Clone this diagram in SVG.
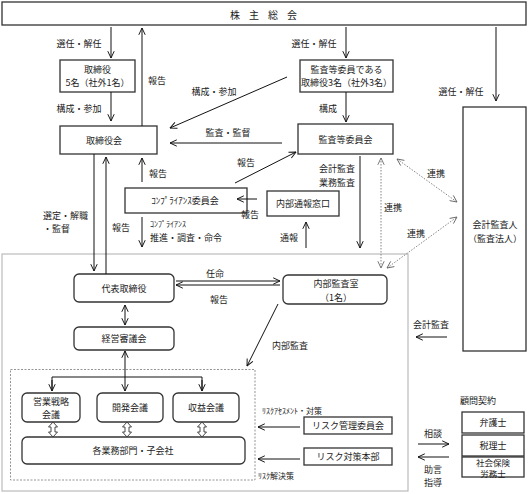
<svg xmlns="http://www.w3.org/2000/svg" width="529" height="494" viewBox="0 0 529 494">
<defs>
<style>
text{font-family:"Noto Sans CJK JP","Noto Sans",sans-serif;font-size:9px;fill:#1a1a1a;text-anchor:middle;dominant-baseline:central}
.s{font-size:8px}
.t{font-size:8.5px}
.l{text-anchor:start}
.box{fill:#fff;stroke:#333;stroke-width:1.3}
.c{fill:none;stroke:#111;stroke-width:1}
.d{fill:none;stroke:#777;stroke-width:0.9;stroke-dasharray:1.5,1.5}
.ha{fill:#fff;stroke:#333;stroke-width:0.9}
</style>
<marker id="ah" viewBox="0 0 10 10" refX="9.5" refY="5" markerWidth="8" markerHeight="8" markerUnits="userSpaceOnUse" orient="auto-start-reverse"><path d="M1,1 L9.5,5 L1,9" fill="none" stroke="#111" stroke-width="1.2"/></marker>
<marker id="ag" viewBox="0 0 10 10" refX="9.5" refY="5" markerWidth="8" markerHeight="8" markerUnits="userSpaceOnUse" orient="auto-start-reverse"><path d="M1,1 L9.5,5 L1,9" fill="none" stroke="#666" stroke-width="1.1"/></marker>
<path id="dbl" d="M0,0 L4.5,5 L2,5 L2,10 L4.5,10 L0,15 L-4.5,10 L-2,10 L-2,5 L-4.5,5 Z"/>
</defs>

<!-- frames -->
<rect x="2" y="254" width="406" height="237" fill="none" stroke="#bbb" stroke-width="1.2"/>
<rect x="10.5" y="369.5" width="244.5" height="110.5" fill="none" stroke="#888" stroke-width="0.9" stroke-dasharray="2,1.5"/>

<g id="n-shareholders"><rect class="box" x="2" y="2" width="524" height="23"/><text x="268" y="14" style="font-size:10px;letter-spacing:9px">株主総会</text></g>
<g id="n-directors"><rect class="box" x="60" y="60" width="75" height="32"/><text x="97.5" y="69.5">取締役</text><text x="97.5" y="82.5">5名（社外1名）</text></g>
<g id="n-acdirectors"><rect class="box" x="300" y="60" width="93" height="32"/><text x="346.5" y="69.5">監査等委員である</text><text x="346.5" y="82.5">取締役3名（社外3名）</text></g>
<g id="n-board"><rect class="box" x="60" y="126" width="97" height="28"/><text x="104" y="140">取締役会</text></g>
<g id="n-accommittee"><rect class="box" x="298" y="124" width="95" height="30"/><text x="345.5" y="139">監査等委員会</text></g>
<g id="n-auditor"><rect class="box" x="463" y="107" width="63" height="244"/><text x="495" y="224.5">会計監査人</text><text x="495" y="238.5">（監査法人）</text></g>
<g id="n-compliance"><rect class="box" x="125" y="188" width="122" height="25"/><text x="185" y="200.5">ｺﾝﾌﾟﾗｲｱﾝｽ委員会</text></g>
<g id="n-whistle"><rect class="box" x="267" y="191" width="72" height="25"/><text x="303" y="203.5">内部通報窓口</text></g>
<g id="n-ceo"><rect class="box" x="74" y="274" width="100" height="28" rx="5"/><text x="124" y="288">代表取締役</text></g>
<g id="n-internal"><rect class="box" x="283" y="275" width="104" height="29" rx="5"/><text x="336" y="283.5">内部監査室</text><text x="336" y="297">（1名）</text></g>
<g id="n-mgmt"><rect class="box" x="74" y="327" width="100" height="23" rx="5"/><text x="124" y="338.5">経営審議会</text></g>
<g id="n-sales"><rect class="box" x="22" y="393" width="58" height="29" rx="5"/><text x="51" y="401.5">営業戦略</text><text x="51" y="414">会議</text></g>
<g id="n-dev"><rect class="box" x="97" y="393" width="66" height="29" rx="5"/><text x="130" y="407.5">開発会議</text></g>
<g id="n-profit"><rect class="box" x="173" y="393" width="66" height="29" rx="5"/><text x="206" y="407.5">収益会議</text></g>
<g id="n-depts"><rect class="box" x="22" y="437" width="223" height="27" rx="5"/><text x="133" y="450.5">各業務部門・子会社</text></g>
<g id="n-riskcomm"><rect class="box" x="304" y="417" width="88" height="17"/><text x="348" y="425.5">リスク管理委員会</text></g>
<g id="n-riskhq"><rect class="box" x="304" y="448" width="88" height="17"/><text x="348" y="456.5">リスク対策本部</text></g>
<g id="n-advisors">
<text x="478" y="400">顧問契約</text>
<rect class="box" x="462" y="412" width="62" height="21"/><text x="493" y="422.5">弁護士</text>
<rect class="box" x="462" y="435" width="62" height="21"/><text x="493" y="445.5">税理士</text>
<rect class="box" x="462" y="457" width="62" height="20"/><text class="t" x="493" y="461.5">社会保険</text><text class="t" x="493" y="472.5">労務士</text>
</g>

<g id="connectors">
<line class="c" x1="111" y1="27" x2="111" y2="58" marker-end="url(#ah)"/>
<line class="c" x1="142" y1="126" x2="142" y2="28" marker-end="url(#ah)"/>
<line class="c" x1="111" y1="92" x2="111" y2="121" marker-end="url(#ah)"/>
<line class="c" x1="346" y1="27" x2="346" y2="58" marker-end="url(#ah)"/>
<line class="c" x1="346" y1="92" x2="346" y2="122" marker-end="url(#ah)"/>
<line class="c" x1="496" y1="27" x2="496" y2="101" marker-end="url(#ah)"/>
<line class="c" x1="287" y1="77" x2="170" y2="128" marker-end="url(#ah)"/>
<line class="c" x1="282" y1="143" x2="170" y2="143" marker-end="url(#ah)"/>
<line class="c" x1="142" y1="182" x2="142" y2="158" marker-end="url(#ah)"/>
<line class="c" x1="235" y1="183" x2="296" y2="152" marker-end="url(#ah)"/>
<line class="c" x1="257" y1="199" x2="237" y2="199" marker-end="url(#ah)"/>
<line class="c" x1="306" y1="248" x2="306" y2="222" marker-end="url(#ah)"/>
<line class="c" x1="360" y1="156" x2="360" y2="248" marker-end="url(#ah)"/>
<line class="c" x1="142" y1="217" x2="142" y2="247" marker-end="url(#ah)"/>
<line class="c" x1="94" y1="154" x2="94" y2="271" marker-end="url(#ah)"/>
<line class="c" x1="106" y1="274" x2="106" y2="157" marker-end="url(#ah)"/>
<line class="d" x1="381" y1="158" x2="381" y2="268" marker-start="url(#ag)" marker-end="url(#ag)"/>
<line class="d" x1="397" y1="159" x2="457" y2="202" marker-start="url(#ag)" marker-end="url(#ag)"/>
<line class="d" x1="387" y1="268" x2="457" y2="217" marker-start="url(#ag)" marker-end="url(#ag)"/>
<line class="c" x1="176" y1="281" x2="280" y2="281" marker-end="url(#ah)"/>
<line class="c" x1="280" y1="285" x2="176" y2="285" marker-end="url(#ah)"/>
<line class="c" x1="278" y1="304" x2="247" y2="366" marker-end="url(#ah)"/>
<line class="c" x1="125" y1="305" x2="125" y2="325" marker-start="url(#ah)" marker-end="url(#ah)"/>
<line class="c" x1="125" y1="377" x2="125" y2="351" marker-end="url(#ah)"/>
<polyline class="c" points="52,391 52,377 202,377 202,391"/>
<line class="c" x1="52" y1="380" x2="52" y2="391" marker-end="url(#ah)"/>
<line class="c" x1="125" y1="377" x2="125" y2="391" marker-end="url(#ah)"/>
<line class="c" x1="202" y1="380" x2="202" y2="391" marker-end="url(#ah)"/>
<use href="#dbl" class="ha" x="53" y="422"/>
<use href="#dbl" class="ha" x="127" y="422"/>
<use href="#dbl" class="ha" x="202" y="422"/>
<line class="c" x1="300" y1="427" x2="258" y2="427" marker-end="url(#ah)"/>
<line class="c" x1="300" y1="459" x2="258" y2="459" marker-end="url(#ah)"/>
<line class="c" x1="447" y1="337" x2="416" y2="337" marker-end="url(#ah)"/>
<line class="c" x1="418" y1="444" x2="449" y2="444" marker-end="url(#ah)"/>
<line class="c" x1="449" y1="457" x2="418" y2="457" marker-end="url(#ah)"/>
</g>

<g id="labels">
<text x="79" y="43">選任・解任</text>
<text x="157" y="80">報告</text>
<text x="79" y="108">構成・参加</text>
<text x="214" y="91">構成・参加</text>
<text x="314" y="43">選任・解任</text>
<text x="328" y="108">構成</text>
<text x="461" y="91">選任・解任</text>
<text x="228" y="132">監査・監督</text>
<text x="158" y="173">報告</text>
<text x="246" y="162">報告</text>
<text x="250" y="214">報告</text>
<text x="337" y="168.5">会計監査</text>
<text x="337" y="182.5">業務監査</text>
<text x="289" y="237">通報</text>
<text x="393" y="207">連携</text>
<text x="436" y="173">連携</text>
<text x="416" y="233">連携</text>
<text class="l" x="43" y="215">選定・解職</text>
<text class="l" x="43" y="228.5">・監督</text>
<text x="121" y="227">報告</text>
<text class="l s" x="150" y="223.5">ｺﾝﾌﾟﾗｲｱﾝｽ</text>
<text class="l" x="150" y="237.5">推進・調査・命令</text>
<text x="215" y="273">任命</text>
<text x="219" y="299">報告</text>
<text x="290" y="345">内部監査</text>
<text x="431" y="324">会計監査</text>
<text class="l s" x="262" y="410">ﾘｽｸｱｾｽﾒﾝﾄ・対策</text>
<text class="l s" x="258" y="475">ﾘｽｸ解決策</text>
<text x="433" y="433">相談</text>
<text x="433" y="469">助言</text>
<text x="433" y="482.5">指導</text>
</g>
</svg>
